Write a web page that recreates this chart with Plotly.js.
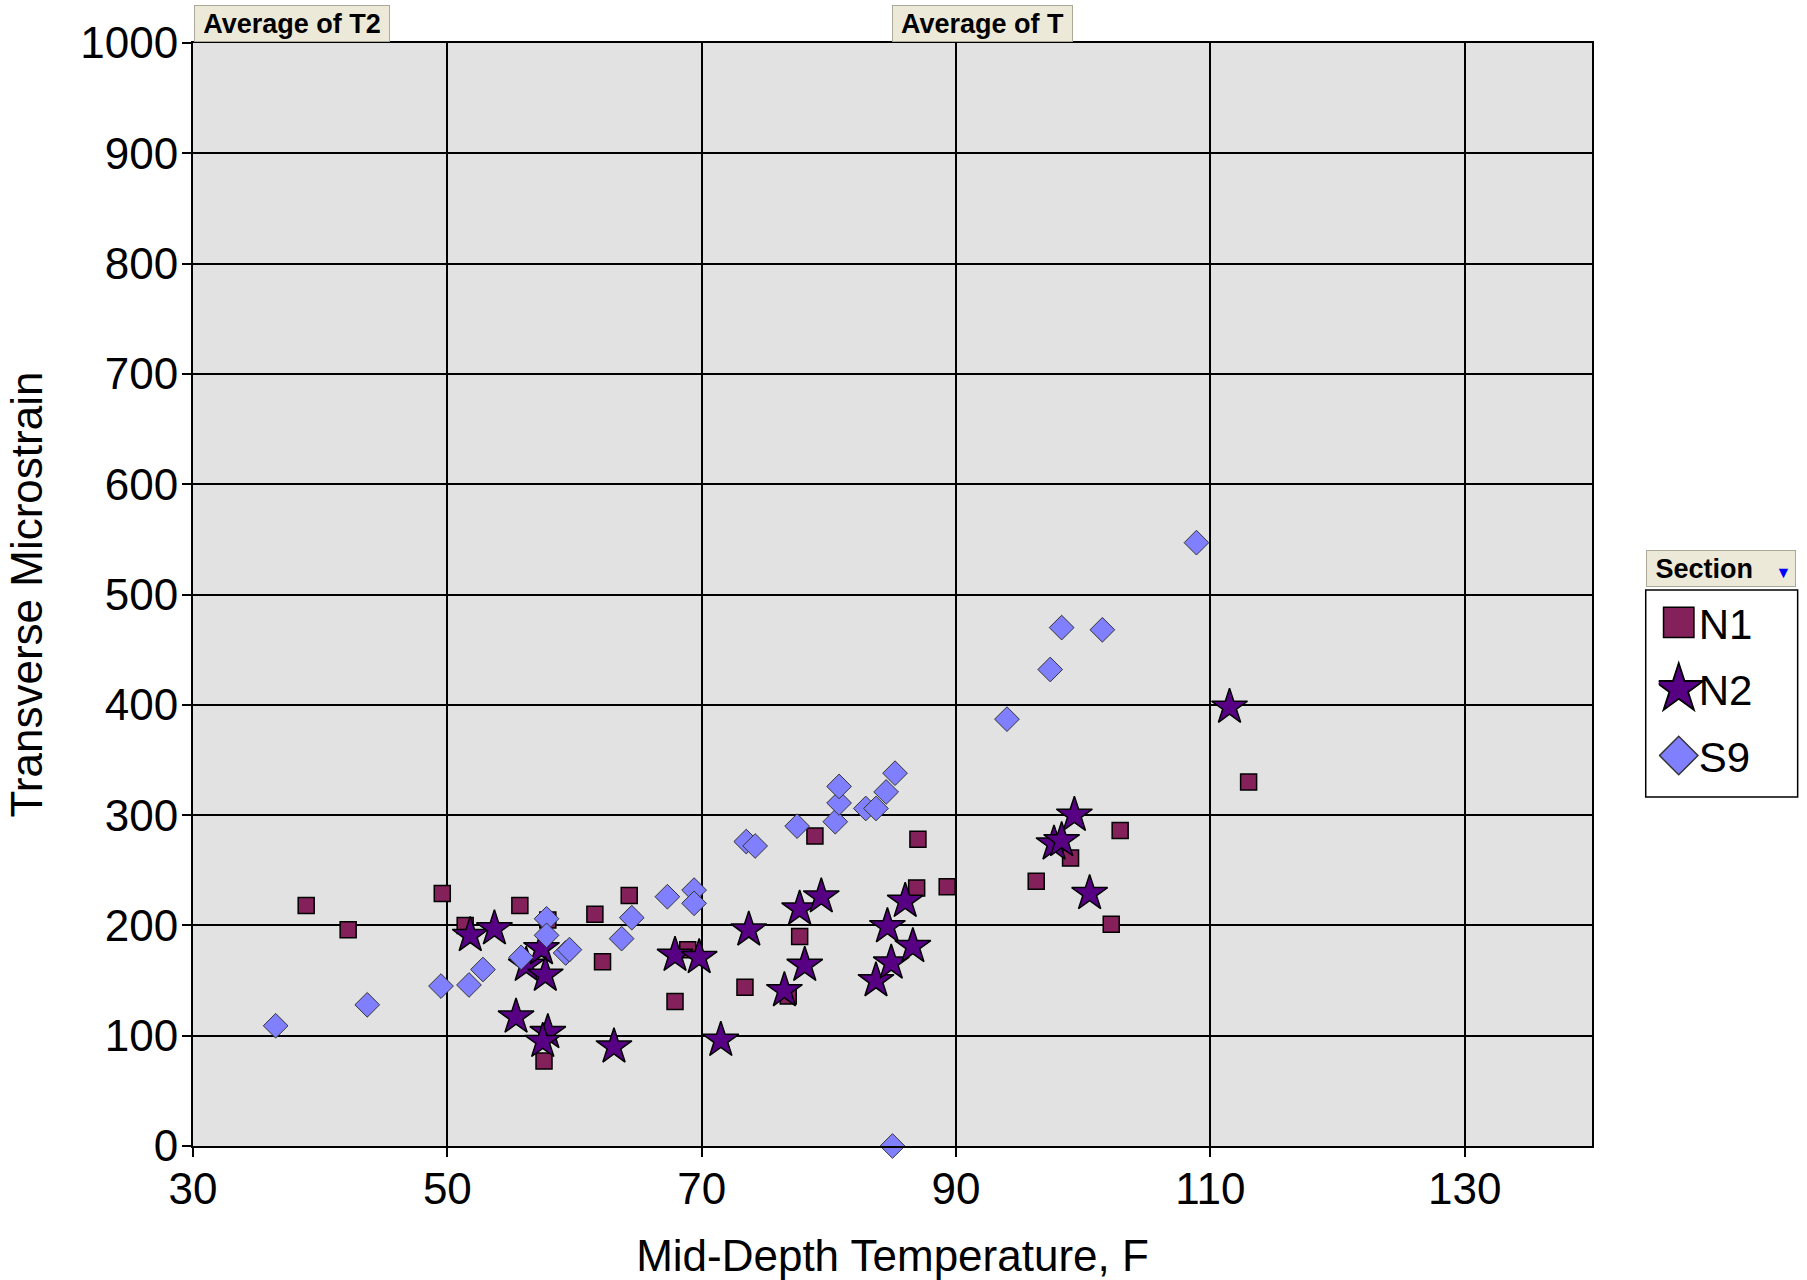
<!DOCTYPE html>
<html>
<head>
<meta charset="utf-8">
<script src="https://cdn.plot.ly/plotly-3.0.1.min.js"></script>
<style>html,body{margin:0;padding:0;background:#fff;}#chart{width:1807px;height:1280px;}</style>
</head>
<body>
<div id="chart"></div>
<script>
// N1 (squares)
const n1X = [38.9, 42.2, 49.6, 51.4, 55.7, 57.6, 57.9, 61.6, 62.2, 64.3, 67.9, 68.9, 73.4, 76.8, 77.7, 78.9, 86.9, 87.0, 89.3, 96.3, 99.0, 102.2, 102.9, 113.0];
const n1Y = [218, 196, 229, 200, 218, 77, 205, 210, 167, 227, 131, 178, 144, 136, 190, 281, 234, 278, 235, 240, 261, 201, 286, 330];
// N2 (stars)
const n2X = [51.8, 53.7, 55.4, 56.2, 57.4, 57.7, 57.9, 57.5, 63.1, 67.9, 69.8, 71.5, 73.7, 76.5, 77.7, 78.1, 79.4, 83.7, 84.6, 84.9, 86.0, 86.6, 97.7, 98.3, 99.3, 100.5, 111.5];
const n2Y = [191, 197, 117, 164, 179, 155, 103, 95, 90, 173, 171, 96, 196, 141, 215, 164, 226, 150, 199, 166, 222, 181, 274, 277, 300, 229, 398];
// S9 (diamonds)
const s9X = [36.5, 43.7, 49.5, 51.7, 52.8, 55.8, 57.8, 57.8, 59.3, 59.6, 63.7, 64.5, 67.3, 69.4, 69.4, 73.5, 74.2, 77.5, 80.5, 80.8, 80.8, 82.9, 83.7, 84.5, 85.2, 85.0, 94.0, 97.4, 98.3, 101.5, 108.9];
const s9Y = [109, 128, 145, 146, 160, 171, 206, 191, 175, 178, 188, 207, 226, 232, 220, 276, 272, 290, 294, 311, 326, 306, 306, 321, 338, 0, 387, 432, 470, 468, 547];

const seriesNames = ['N1', 'N2', 'S9'];
const xTitle = 'Mid-Depth Temperature, F';
const yTitle = 'Transverse Microstrain';
const fieldButtons = ['Average of T2', 'Average of T'];
const legendHeader = 'Section';

const FONT = 'Liberation Sans, Arial, sans-serif';

const traces = [
  {x: n1X, y: n1Y, name: seriesNames[0], legendgroup: 'g1', type: 'scatter', mode: 'markers', cliponaxis: false,
   marker: {symbol: 'square', size: 16, color: '#84215b', line: {color: '#000', width: 1.5}}},
  {x: n2X, y: n2Y, name: seriesNames[1], legendgroup: 'g2', type: 'scatter', mode: 'markers', cliponaxis: false,
   marker: {symbol: 'star', size: 27, color: '#580084', line: {color: '#000', width: 1.5}}},
  {x: s9X, y: s9Y, name: seriesNames[2], legendgroup: 'g3', type: 'scatter', mode: 'markers', cliponaxis: false,
   marker: {symbol: 'diamond', size: 19, color: '#8080ff', line: {color: '#333', width: 1}}}
];

const btnStyle = {
  xref: 'paper', yref: 'paper', showarrow: false,
  font: {family: FONT, size: 27, color: '#000', weight: 'bold'},
  bgcolor: '#ece9d8', bordercolor: '#aca899', borderwidth: 1, borderpad: 1, height: 33
};

const layout = {
  width: 1807, height: 1280,
  margin: {l: 193, r: 215, t: 43, b: 134},
  paper_bgcolor: '#ffffff',
  plot_bgcolor: '#e2e2e2',
  font: {family: FONT, color: '#000'},
  showlegend: true,
  legend: {
    x: 1.0477, y: 0.5054, xanchor: 'left', yanchor: 'top',
    bgcolor: 'rgba(0,0,0,0)', borderwidth: 0,
    font: {family: FONT, size: 42, color: '#000'},
    itemwidth: 30, tracegroupgap: 9
  },
  xaxis: {
    range: [30, 140], tick0: 30, dtick: 20, autorange: false,
    ticks: 'outside', ticklen: 9, tickwidth: 2, tickcolor: '#000', ticklabelstandoff: -6,
    showline: true, linecolor: '#000', linewidth: 2, mirror: true,
    showgrid: true, gridcolor: '#000', gridwidth: 2, zeroline: false,
    tickfont: {family: FONT, size: 44, color: '#000'},
    title: {text: xTitle, font: {family: FONT, size: 44, color: '#000'}, standoff: 30}
  },
  yaxis: {
    range: [0, 1000], tick0: 0, dtick: 100, autorange: false,
    ticks: 'outside', ticklen: 9, tickwidth: 2, tickcolor: '#000', ticklabelstandoff: -5,
    showline: true, linecolor: '#000', linewidth: 2, mirror: true,
    showgrid: true, gridcolor: '#000', gridwidth: 2, zeroline: false,
    tickfont: {family: FONT, size: 44, color: '#000'},
    title: {text: yTitle, font: {family: FONT, size: 44, color: '#000'}, standoff: 24}
  },
  shapes: [
    {type: 'rect', xref: 'paper', yref: 'paper', x0: 1.0384, x1: 1.147, y0: 0.3164, y1: 0.504,
     fillcolor: '#ffffff', line: {color: '#000', width: 1.5}, layer: 'below'}
  ],
  annotations: [
    Object.assign({}, btnStyle, {text: fieldButtons[0], x: 0.0008, y: 1.0005, xanchor: 'left', yanchor: 'bottom', width: 192}),
    Object.assign({}, btnStyle, {text: fieldButtons[1], x: 0.5641, y: 1.0005, xanchor: 'center', yanchor: 'bottom', width: 177}),
    Object.assign({}, btnStyle, {text: '&nbsp;' + legendHeader + '&nbsp;&nbsp;&nbsp;<span style="color:#0000ff;font-size:16px">▼</span>',
      x: 1.0384, y: 0.5065, xanchor: 'left', yanchor: 'bottom', width: 146, align: 'left'})
  ]
};

Plotly.newPlot('chart', traces, layout, {displayModeBar: false, staticPlot: true}).then(function (gd) {
  // enlarge legend symbols to match the reference legend
  const scales = [1.9, 2.3, 1.85];
  gd.querySelectorAll('.legend .traces').forEach(function (t, i) {
    t.querySelectorAll('.legendpoints path').forEach(function (p) {
      const tr = p.getAttribute('transform') || '';
      p.setAttribute('transform', tr + ' scale(' + scales[i] + ')');
      p.style.strokeWidth = '0.8px';
    });
  });
});
</script>
</body>
</html>
